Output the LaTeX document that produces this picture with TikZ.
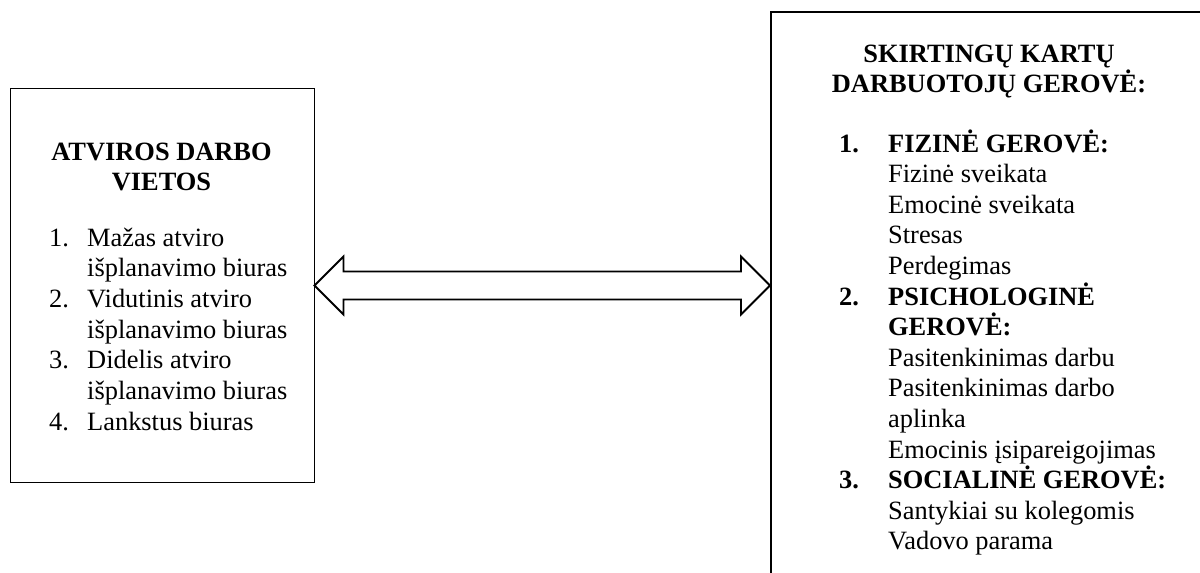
\documentclass[tikz,border=0pt]{standalone}
\usepackage{fontspec}
\setmainfont{Liberation Serif}
\usetikzlibrary{calc}
\begin{document}
\begin{tikzpicture}[x=1pt,y=-1pt,
  box/.style={draw=black, fill=none, inner sep=0pt, anchor=north west},
  txt/.style={inner sep=0pt, anchor=base west, font=\fontsize{26.4}{30.6}\selectfont},
  btxt/.style={txt, font=\fontsize{26.4}{30.6}\selectfont\bfseries},
  ttl/.style={inner sep=0pt, anchor=base, font=\fontsize{26.4}{30.6}\selectfont\bfseries},
  blockarrow/.style={draw=black, line width=1.8pt, line join=miter, fill=white}]
\useasboundingbox (0,0) rectangle (1200,573);
\fill[white] (0,0) rectangle (1200,573);
\clip (0,0) rectangle (1200,573);

% boxes
\node[box, line width=1pt, minimum width=304pt, minimum height=394pt] (left) at (9.5,88) {};
\node[box, line width=2pt, minimum width=460pt, minimum height=620pt] (right) at (770,11) {};

% double block arrow
\coordinate (A) at (left.east);
\coordinate (B) at (left.east -| right.west);
\draw[blockarrow] (A) -- ($(A)+(29,-29)$) -- ($(A)+(29,-14)$) -- ($(B)+(-29,-14)$)
  -- ($(B)+(-29,-29)$) -- (B) -- ($(B)+(-29,29)$) -- ($(B)+(-29,14)$)
  -- ($(A)+(29,14)$) -- ($(A)+(29,29)$) -- cycle;

% left box text
\node[ttl] (lt1) at (161.5,160) {ATVIROS DARBO};
\node[ttl] (lt2) at (161.5,190.5) {VIETOS};
\node[txt] (ln1) at (49,246) {1.};
\node[txt] (l1) at (87,246) {Mažas atviro};
\node[txt] (l1b) at (87,276.7) {išplanavimo biuras};
\node[txt] (ln2) at (49,307.4) {2.};
\node[txt] (l2) at (87,307.4) {Vidutinis atviro};
\node[txt] (l2b) at (87,338.1) {išplanavimo biuras};
\node[txt] (ln3) at (49,368.8) {3.};
\node[txt] (l3) at (87,368.8) {Didelis atviro};
\node[txt] (l3b) at (87,399.5) {išplanavimo biuras};
\node[txt] (ln4) at (49,430.2) {4.};
\node[txt] (l4) at (87,430.2) {Lankstus biuras};

% right box text
\node[ttl] (rt1) at (989,62) {SKIRTINGŲ KARTŲ};
\node[ttl] (rt2) at (989,92.5) {DARBUOTOJŲ GEROVĖ:};
\node[btxt] (rn1) at (839,152) {1.};
\node[btxt] (r0) at (888,152) {FIZINĖ GEROVĖ:};
\node[txt] (r1) at (888,182.6) {Fizinė sveikata};
\node[txt] (r2) at (888,213.2) {Emocinė sveikata};
\node[txt] (r3) at (888,243.8) {Stresas};
\node[txt] (r4) at (888,274.4) {Perdegimas};
\node[btxt] (rn2) at (839,305) {2.};
\node[btxt] (r5) at (888,305) {PSICHOLOGINĖ};
\node[btxt] (r6) at (888,335.6) {GEROVĖ:};
\node[txt] (r7) at (888,366.2) {Pasitenkinimas darbu};
\node[txt] (r8) at (888,396.8) {Pasitenkinimas darbo};
\node[txt] (r9) at (888,427.4) {aplinka};
\node[txt] (r10) at (888,458) {Emocinis įsipareigojimas};
\node[btxt] (rn3) at (839,488.6) {3.};
\node[btxt] (r11) at (888,488.6) {SOCIALINĖ GEROVĖ:};
\node[txt] (r12) at (888,519.2) {Santykiai su kolegomis};
\node[txt] (r13) at (888,549.8) {Vadovo parama};
\end{tikzpicture}
\end{document}
